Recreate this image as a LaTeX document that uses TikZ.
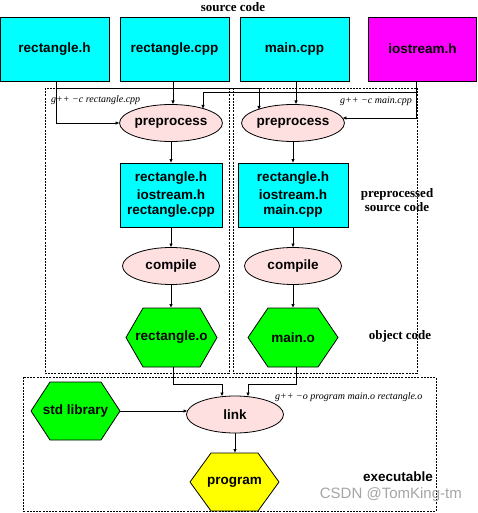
\documentclass[tikz,border=0pt]{standalone}
\usepackage{fontspec}
\setmainfont{Liberation Serif}
\setsansfont{Liberation Sans}
\usetikzlibrary{shapes.geometric,arrows.meta,calc,backgrounds}
\definecolor{cy}{RGB}{0,255,255}
\definecolor{mg}{RGB}{255,0,255}
\definecolor{pk}{RGB}{255,224,224}
\definecolor{gr}{RGB}{0,255,0}
\definecolor{ye}{RGB}{255,255,0}
\definecolor{wm}{RGB}{165,165,165}
\newcommand\hexat[3]{%
  \path[draw=black,line width=0.8pt,fill=#2]
    ([xshift=#3]#1.north west) -- ([xshift=-#3]#1.north east) -- (#1.east)
    -- ([xshift=-#3]#1.south east) -- ([xshift=#3]#1.south west) -- (#1.west) -- cycle;}
\begin{document}
\begin{tikzpicture}[x=1pt,y=-1pt,
  lbl/.style={font=\sffamily\bfseries\fontsize{13.5}{16}\selectfont},
  srcbox/.style={lbl,draw=black,line width=0.8pt,fill=cy,minimum width=109pt,minimum height=64pt,inner sep=0pt,outer sep=0pt},
  midbox/.style={lbl,draw=black,line width=0.8pt,fill=cy,minimum height=64pt,inner sep=0pt,outer sep=0pt,align=center},
  proc/.style={lbl,ellipse,draw=black,line width=0.8pt,fill=pk,minimum width=97pt,minimum height=37pt,inner sep=0pt,outer sep=0pt},
  hexnode/.style={lbl,minimum height=59pt,inner sep=0pt,outer sep=0pt},
  serifl/.style={font=\rmfamily\bfseries\fontsize{13}{14}\selectfont,align=center},
  cmd/.style={font=\rmfamily\itshape\fontsize{10}{12}\selectfont,inner sep=0pt},
  grp/.style={dash pattern=on 2pt off 1.2pt,line width=0.7pt},
  arr/.style={line width=0.8pt,-{Latex[length=4pt,width=3.5pt]}},
  ln/.style={line width=0.8pt}]
\useasboundingbox (0,0) rectangle (477,513);

% group boxes
\draw[grp] (45,88) rectangle (229,373);
\draw[grp] (233,88) rectangle (417,373);
\draw[grp] (23,377) rectangle (436,511);

% titles and labels
\node[serifl] (ttl) at (233,7) {source code};
\node[serifl] (ppl) at (397,200) {preprocessed\\source code};
\node[serifl] (obl) at (400,336) {object code};
\node[lbl,anchor=east,inner sep=0pt] (exl) at (433,477) {executable};
\node[cmd,anchor=west] (c1) at (51,100) {g++ −c rectangle.cpp};
\node[cmd,anchor=east] (c2) at (412,101) {g++ −c main.cpp};
\node[cmd,anchor=west] (c3) at (275,397) {g++ −o program main.o rectangle.o};

% source files
\node[srcbox] (rh) at (54.5,49) {rectangle.h};
\node[srcbox] (rcpp) at (174.5,49) {rectangle.cpp};
\node[srcbox] (mcpp) at (294.5,49) {main.cpp};
\node[srcbox,fill=mg,minimum width=108.5pt] (io) at (422.5,49) {iostream.h};

% preprocess
\node[proc] (pp1) at (171,123) {preprocess};
\node[proc] (pp2) at (293,123) {preprocess};

% preprocessed sources
\node[midbox,minimum width=102pt] (mb1) at (171,195) {rectangle.h\\[2pt]iostream.h\\[-1pt]rectangle.cpp};
\node[midbox,minimum width=110pt] (mb2) at (293,195) {rectangle.h\\[2pt]iostream.h\\[-1pt]main.cpp};

% compile
\node[proc] (cp1) at (171,266) {compile};
\node[proc] (cp2) at (293,266) {compile};

% object files
\node[hexnode,minimum width=91pt] (ro) at (171.5,337.5) {rectangle.o};
\node[hexnode,minimum width=90pt] (mo) at (293,337.5) {main.o};
\node[hexnode,minimum width=89pt,minimum height=58pt] (std) at (75.5,411) {std library};
\node[proc] (lk) at (235,414.5) {link};
\node[hexnode,minimum width=89pt,minimum height=58pt] (prog) at (234.5,482) {program};

\begin{scope}[on background layer]
  \hexat{ro}{gr}{17pt}
  \hexat{mo}{gr}{20pt}
  \hexat{std}{gr}{19pt}
  \hexat{prog}{ye}{21pt}
\end{scope}

% connectors
\coordinate (j1) at ($(rh.south)+(2,7)$);
\coordinate (j2) at ($(io.south)+(-6,11)$);
\draw[arr] ($(rh.south)+(2,0)$) |- (pp1.west);
\draw[arr] (j1) -| ($(pp2.center)+(-34,-13)$);
\draw[arr] ($(rcpp.south)+(-1.5,0)$) -- ($(pp1.north)+(2,0)$);
\draw[arr] ($(mcpp.south)+(1.5,0)$) -- ($(pp2.north)+(3,0)$);
\draw[arr] ($(io.south)+(-6,0)$) |- ($(pp2.east)+(-2,-5)$);
\draw[arr] (j2) -| ($(pp1.center)+(32,-14)$);

\draw[arr] (pp1.south) -- (mb1.north);
\draw[arr] (pp2.south) -- (mb2.north);
\draw[arr] (mb1.south) -- (cp1.north);
\draw[arr] (mb2.south) -- (cp2.north);
\draw[arr] (cp1.south) -- (cp1.south |- ro.north);
\draw[arr] (cp2.south) -- (mo.north);

\draw[arr] ($(ro.south)+(1.5,0)$) -- ++(0,17) -| ($(lk.center)+(-13,-18)$);
\draw[arr] ($(mo.south)+(3.5,0)$) -- ++(0,17) -| ($(lk.center)+(13,-18)$);
\draw[arr] (std.east) -- ($(lk.west)+(1,-3.5)$);
\draw[arr] (lk.south) -- (lk.south |- prog.north);

% watermark
\node[font=\sffamily\fontsize{15}{17}\selectfont,text=wm,anchor=east,inner sep=0pt] (wmk) at (462,495) {CSDN @TomKing-tm};
\end{tikzpicture}
\end{document}
